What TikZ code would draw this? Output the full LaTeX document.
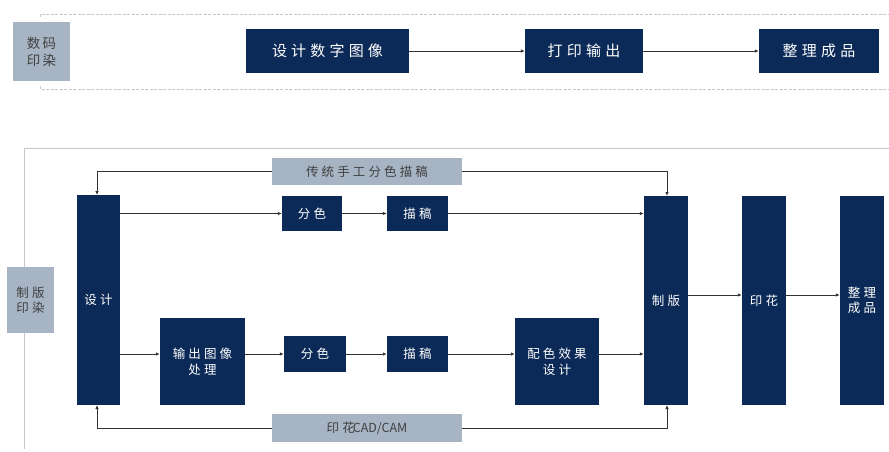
\documentclass[tikz,border=0pt]{standalone}
\usepackage{fontspec}
\setmainfont{Noto Sans CJK SC}
\usetikzlibrary{arrows.meta}
\definecolor{navy}{HTML}{0C2A57}
\definecolor{graybox}{HTML}{A7B4C4}
\definecolor{frameline}{HTML}{C4C8CD}
\tikzset{
  dark/.style={fill=navy, draw=none, text=white, inner sep=0pt, font=\fontsize{12.5}{15.5}\selectfont\addfontfeature{LetterSpace=25}, align=center},
  light/.style={fill=graybox, draw=none, text=black!75, inner sep=0pt, font=\fontsize{12.5}{15.5}\selectfont\addfontfeature{LetterSpace=25}, align=center},
  big/.style={font=\fontsize{15}{18}\selectfont\addfontfeature{LetterSpace=28}},
  conn/.style={draw=black!80, line width=1pt, -{Latex[length=4pt,width=3.5pt]}},
  frame/.style={draw=frameline, line width=1pt},
}
\begin{document}
\begin{tikzpicture}[x=1pt,y=-1pt]
\useasboundingbox (0,0) rectangle (889,451);
% ---- top section ----
\draw[frame, dash pattern=on 3pt off 1.5pt] (40,17) -- (40,14) -- (889,14);
\draw[frame, dash pattern=on 3pt off 1.5pt] (40,86) -- (40,89) -- (889,89);
\node[light, minimum width=57pt, minimum height=59pt, font=\fontsize{13.5}{17}\selectfont\addfontfeature{LetterSpace=18}] (dm) at (41.5,51.5) {数码\\印染};
\node[dark, big, minimum width=163pt, minimum height=44pt] (t1) at (327.5,51) {设计数字图像};
\node[dark, big, minimum width=118pt, minimum height=44pt] (t2) at (584,51) {打印输出};
\node[dark, big, minimum width=120pt, minimum height=44pt] (t3) at (819,51) {整理成品};
\draw[conn] (t1) -- (t2);
\draw[conn] (t2) -- (t3);
% ---- bottom section ----
\draw[frame] (24,449) -- (24,148) -- (889,148);
\node[light, minimum width=47pt, minimum height=66pt] (zb) at (30.5,300) {制版\\印染};
\node[dark, minimum width=43pt, minimum height=210pt] (sj) at (98.5,300) {设计};
\node[light, minimum width=190pt, minimum height=27pt] (ct) at (367,171.5) {传统手工分色描稿};
\node[dark, minimum width=60pt, minimum height=35pt] (fs1) at (312,213.5) {分色};
\node[dark, minimum width=61pt, minimum height=35pt] (mg1) at (417.5,213.5) {描稿};
\node[dark, minimum width=44pt, minimum height=209pt] (zbn) at (666,300.5) {制版};
\node[dark, minimum width=44pt, minimum height=209pt] (yh) at (764,300.5) {印花};
\node[dark, minimum width=44pt, minimum height=209pt] (zl) at (862,300.5) {整理\\成品};
\node[dark, minimum width=85pt, minimum height=87pt] (sc) at (202.5,361.5) {输出图像\\处理};
\node[dark, minimum width=62pt, minimum height=36pt] (fs2) at (315,354) {分色};
\node[dark, minimum width=61pt, minimum height=36pt] (mg2) at (417.5,354) {描稿};
\node[dark, minimum width=84pt, minimum height=87pt] (px) at (557,361.5) {配色效果\\设计};
\node[light, minimum width=190pt, minimum height=28pt] (cad) at (367,428) {印花\kern-2pt{\addfontfeature{LetterSpace=0}CAD/CAM}};
% connectors
\coordinate (sjtop) at (97,195);
\coordinate (zbtop) at (667,196);
\draw[conn] (ct.west) -| (sjtop);
\draw[conn] (ct.east) -| (zbtop);
\draw[conn] (sj.east |- fs1.west) -- (fs1.west);
\draw[conn] (fs1) -- (mg1);
\draw[conn] (mg1.east) -- (zbn.west |- mg1.east);
\draw[conn] (sj.east |- fs2.west) -- (sc.west |- fs2.west);
\draw[conn] (sc.east |- fs2.west) -- (fs2.west);
\draw[conn] (fs2) -- (mg2);
\draw[conn] (mg2.east) -- (px.west |- mg2.east);
\draw[conn] (px.east |- mg2.east) -- (zbn.west |- mg2.east);
\draw[conn] (zbn.east |- 0,295) -- (yh.west |- 0,295);
\draw[conn] (yh.east |- 0,295) -- (zl.west |- 0,295);
\coordinate (sjbot) at (97,405);
\coordinate (zbbot) at (667,405);
\draw[conn] (cad.west) -| (sjbot);
\draw[conn] (cad.east) -| (zbbot);
\end{tikzpicture}
\end{document}
